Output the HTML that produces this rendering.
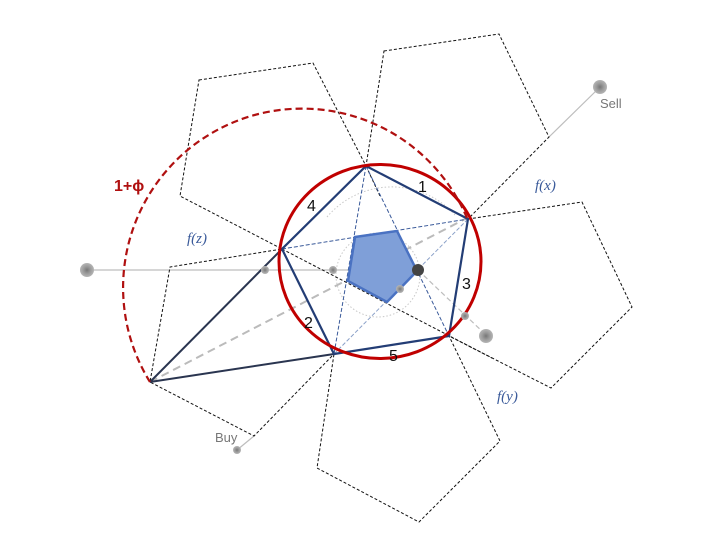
<!DOCTYPE html>
<html><head><meta charset="utf-8"><style>
html,body{margin:0;padding:0;background:#fff;}
svg{display:block;}
text{font-family:"Liberation Sans",sans-serif;}
</style></head><body>
<svg width="720" height="540" viewBox="0 0 720 540" xmlns="http://www.w3.org/2000/svg">
<defs>
<radialGradient id="g" cx="50%" cy="50%" r="50%"><stop offset="0" stop-color="#777"/><stop offset="0.5" stop-color="#9a9a9a"/><stop offset="1" stop-color="#b5b5b5"/></radialGradient>
</defs>
<g stroke="#bdbdbd" stroke-width="1.2" fill="none">
<line x1="87" y1="270" x2="418" y2="270"/>
<line x1="549" y1="137" x2="598" y2="89"/>
<line x1="254" y1="436" x2="237" y2="450"/>
<line x1="418" y1="270" x2="486" y2="335" stroke-dasharray="5,3"/>
</g>
<g stroke="#c8c8c8" stroke-width="1" fill="none" stroke-dasharray="1.5,2">
<path d="M327 217 A85 85 0 0 1 455 215"/>
<circle cx="378" cy="275" r="42"/>
</g>
<g stroke="#111" stroke-width="1" fill="none" stroke-dasharray="3,2">
<polygon points="199,80 313,63 366,166 282,249 180,196"/>
<polygon points="384,51 499,34 549,137 468,219 366,166"/>
<polygon points="468,219 582,202 632,307 551,388 449,336"/>
<polygon points="334,354 449,336 500,441 419,522 317,468"/>
<polygon points="282,249 334,354 254,436 150,382 170,267"/>
<line x1="282" y1="249" x2="492" y2="358"/>
<line x1="366" y1="166" x2="380" y2="196"/>
</g>
<line x1="150" y1="382" x2="467" y2="218" stroke="#bbb" stroke-width="2" stroke-dasharray="8,5"/>
<g stroke="#3a5a9a" stroke-width="1" fill="none" stroke-dasharray="4,2">
<line x1="366" y1="166" x2="334" y2="354"/>
<line x1="366" y1="166" x2="449" y2="336"/>
<line x1="282" y1="249" x2="468" y2="219"/>
<line x1="334" y1="354" x2="468" y2="219" stroke="#8aa0c8"/>
</g>
<g stroke="#2a3550" stroke-width="2" fill="none">
<line x1="150" y1="382" x2="282" y2="249"/>
<line x1="150" y1="382" x2="334" y2="354"/>
</g>
<polygon points="366,166 468,219 449,336 334,354 282,249" fill="none" stroke="#233d75" stroke-width="2.2"/>
<ellipse cx="380" cy="261.5" rx="101" ry="97" fill="none" stroke="#c00000" stroke-width="3"/>
<path d="M150 382 A179 179 0 1 1 467 218" fill="none" stroke="#b01010" stroke-width="2.2" stroke-dasharray="7,4"/>
<polygon points="355,237 397,231 417,271 387,302 348,281" fill="#7f9fd8" stroke="#4a72c2" stroke-width="2.5"/>
<circle cx="87" cy="270" r="7" fill="url(#g)"/>
<circle cx="265" cy="270" r="4" fill="url(#g)"/>
<circle cx="333" cy="270" r="4" fill="url(#g)"/>
<circle cx="400" cy="289" r="4" fill="url(#g)"/>
<circle cx="418" cy="270" r="6" fill="#444"/>
<circle cx="465" cy="316" r="4" fill="url(#g)"/>
<circle cx="486" cy="336" r="7" fill="url(#g)"/>
<circle cx="600" cy="87" r="7" fill="url(#g)"/>
<circle cx="237" cy="450" r="4" fill="url(#g)"/>
<g font-size="16" fill="#111">
<text x="418" y="192">1</text>
<text x="307" y="211">4</text>
<text x="462" y="289">3</text>
<text x="304" y="328">2</text>
<text x="389" y="361">5</text>
</g>
<text x="114" y="191" font-size="16" font-weight="bold" fill="#b01010">1+ϕ</text>
<g font-style="italic" font-size="15" fill="#3a5a9a">
<text x="535" y="190" style="font-family:'Liberation Serif',serif">f(x)</text>
<text x="187" y="243" style="font-family:'Liberation Serif',serif">f(z)</text>
<text x="497" y="401" style="font-family:'Liberation Serif',serif">f(y)</text>
</g>
<text x="600" y="108" font-size="13" fill="#777">Sell</text>
<text x="215" y="442" font-size="13" fill="#777">Buy</text>
</svg>
</body></html>
